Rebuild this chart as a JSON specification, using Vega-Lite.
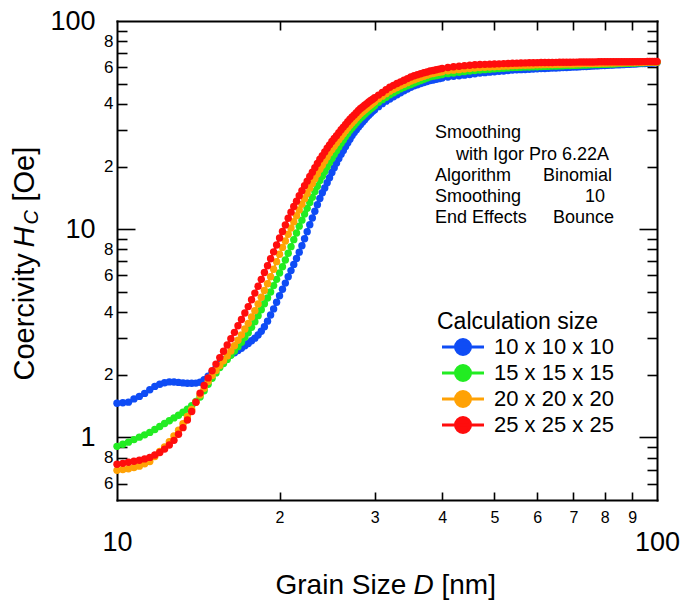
{
  "$schema": "https://vega.github.io/schema/vega-lite/v6.json",
  "width": 540,
  "height": 479,
  "autosize": "none",
  "padding": {"left": 117, "top": 21, "right": 26, "bottom": 100},
  "background": "white",
  "config": {
    "view": {"stroke": null},
    "font": "Liberation Sans",
    "axis": {
      "grid": false,
      "domainColor": "black",
      "domainWidth": 2,
      "domainCap": "square",
      "tickColor": "black",
      "tickWidth": 1.6,
      "labelColor": "black",
      "labelFont": "Liberation Sans",
      "labelFlush": false,
      "labelOverlap": false,
      "labelBound": false,
      "titleColor": "black",
      "titleFont": "Liberation Sans",
      "titleFontWeight": "normal",
      "titleFontSize": 28,
      "titleAlign": "left",
      "titleBaseline": "alphabetic"
    }
  },
  "resolve": {"axis": {"x": "independent", "y": "independent"}},
  "layer": [
    {
      "data": {"values": [
        {"c":10,"d":10,"h":1.457},{"c":10,"d":10.25,"h":1.465},{"c":10,"d":10.5,"h":1.476},{"c":10,"d":10.75,"h":1.530},{"c":10,"d":11,"h":1.573},{"c":10,"d":11.25,"h":1.626},{"c":10,"d":11.5,"h":1.692},{"c":10,"d":11.75,"h":1.757},{"c":10,"d":12,"h":1.800},{"c":10,"d":12.25,"h":1.828},{"c":10,"d":12.5,"h":1.846},{"c":10,"d":12.75,"h":1.845},{"c":10,"d":13,"h":1.836},{"c":10,"d":13.25,"h":1.826},{"c":10,"d":13.5,"h":1.818},{"c":10,"d":13.75,"h":1.818},{"c":10,"d":14,"h":1.822},{"c":10,"d":14.25,"h":1.840},{"c":10,"d":14.5,"h":1.890},{"c":10,"d":14.75,"h":1.967},{"c":10,"d":15,"h":2.056},{"c":10,"d":15.25,"h":2.147},{"c":10,"d":15.5,"h":2.251},{"c":10,"d":15.75,"h":2.355},{"c":10,"d":16,"h":2.424},{"c":10,"d":16.25,"h":2.492},{"c":10,"d":16.5,"h":2.548},{"c":10,"d":16.75,"h":2.612},{"c":10,"d":17,"h":2.676},{"c":10,"d":17.25,"h":2.751},{"c":10,"d":17.5,"h":2.822},{"c":10,"d":17.75,"h":2.908},{"c":10,"d":18,"h":2.996},{"c":10,"d":18.25,"h":3.104},{"c":10,"d":18.5,"h":3.234},{"c":10,"d":18.75,"h":3.399},{"c":10,"d":19,"h":3.615},{"c":10,"d":19.25,"h":3.868},{"c":10,"d":19.5,"h":4.140},{"c":10,"d":19.75,"h":4.453},{"c":10,"d":20,"h":4.790},{"c":10,"d":20.25,"h":5.142},{"c":10,"d":20.5,"h":5.507},{"c":10,"d":20.75,"h":5.904},{"c":10,"d":21,"h":6.324},{"c":10,"d":21.25,"h":6.773},{"c":10,"d":21.5,"h":7.228},{"c":10,"d":21.75,"h":7.743},{"c":10,"d":22,"h":8.321},{"c":10,"d":22.25,"h":8.992},{"c":10,"d":22.5,"h":9.728},{"c":10,"d":22.75,"h":10.51},{"c":10,"d":23,"h":11.31},{"c":10,"d":23.25,"h":12.19},{"c":10,"d":23.5,"h":13.09},{"c":10,"d":23.75,"h":14.05},{"c":10,"d":24,"h":14.95},{"c":10,"d":24.25,"h":15.76},{"c":10,"d":24.5,"h":16.72},{"c":10,"d":24.75,"h":17.67},{"c":10,"d":25,"h":18.71},{"c":10,"d":25.25,"h":19.73},{"c":10,"d":25.5,"h":20.77},{"c":10,"d":25.75,"h":21.85},{"c":10,"d":26,"h":22.92},{"c":10,"d":26.25,"h":23.90},{"c":10,"d":26.5,"h":24.95},{"c":10,"d":26.75,"h":25.99},{"c":10,"d":27,"h":27.02},{"c":10,"d":27.25,"h":28.15},{"c":10,"d":27.5,"h":29.10},{"c":10,"d":27.75,"h":30.06},{"c":10,"d":28,"h":30.97},{"c":10,"d":28.25,"h":31.87},{"c":10,"d":28.5,"h":32.69},{"c":10,"d":28.75,"h":33.57},{"c":10,"d":29,"h":34.44},{"c":10,"d":29.25,"h":35.21},{"c":10,"d":29.5,"h":36.00},{"c":10,"d":29.75,"h":36.81},{"c":10,"d":30,"h":37.46},
        {"c":10,"d":30.5,"h":38.77},{"c":10,"d":31,"h":40.08},{"c":10,"d":31.5,"h":41.20},{"c":10,"d":32,"h":42.22},{"c":10,"d":32.5,"h":43.21},{"c":10,"d":33,"h":44.22},{"c":10,"d":33.5,"h":45.21},{"c":10,"d":34,"h":46.17},{"c":10,"d":34.5,"h":47.10},{"c":10,"d":35,"h":48.04},{"c":10,"d":35.5,"h":48.90},{"c":10,"d":36,"h":49.44},{"c":10,"d":36.5,"h":50.06},{"c":10,"d":37,"h":50.61},{"c":10,"d":37.5,"h":51.17},{"c":10,"d":38,"h":51.74},{"c":10,"d":38.5,"h":52.09},{"c":10,"d":39,"h":52.50},{"c":10,"d":39.5,"h":52.85},{"c":10,"d":40,"h":53.21},
        {"c":10,"d":41,"h":53.86},{"c":10,"d":42,"h":54.21},{"c":10,"d":43,"h":54.58},{"c":10,"d":44,"h":54.95},{"c":10,"d":45,"h":55.38},{"c":10,"d":46,"h":55.80},{"c":10,"d":47,"h":56.23},{"c":10,"d":48,"h":56.48},{"c":10,"d":49,"h":56.79},{"c":10,"d":50,"h":57.05},{"c":10,"d":51,"h":57.31},{"c":10,"d":52,"h":57.56},{"c":10,"d":53,"h":57.88},{"c":10,"d":54,"h":58.14},{"c":10,"d":55,"h":58.27},{"c":10,"d":56,"h":58.40},{"c":10,"d":57,"h":58.53},{"c":10,"d":58,"h":58.66},{"c":10,"d":59,"h":58.78},{"c":10,"d":60,"h":58.91},{"c":10,"d":61,"h":59.05},{"c":10,"d":62,"h":59.17},{"c":10,"d":63,"h":59.31},{"c":10,"d":64,"h":59.38},{"c":10,"d":65,"h":59.51},{"c":10,"d":66,"h":59.64},{"c":10,"d":67,"h":59.71},{"c":10,"d":68,"h":59.84},{"c":10,"d":69,"h":59.91},{"c":10,"d":70,"h":60.05},{"c":10,"d":71,"h":60.12},{"c":10,"d":72,"h":60.25},{"c":10,"d":73,"h":60.38},{"c":10,"d":74,"h":60.45},{"c":10,"d":75,"h":60.58},{"c":10,"d":76,"h":60.72},{"c":10,"d":77,"h":60.85},{"c":10,"d":78,"h":60.92},{"c":10,"d":79,"h":61.05},{"c":10,"d":80,"h":61.18},{"c":10,"d":81,"h":61.25},{"c":10,"d":82,"h":61.38},{"c":10,"d":83,"h":61.45},{"c":10,"d":84,"h":61.58},{"c":10,"d":85,"h":61.65},{"c":10,"d":86,"h":61.72},{"c":10,"d":87,"h":61.86},{"c":10,"d":88,"h":61.92},{"c":10,"d":89,"h":61.99},{"c":10,"d":90,"h":62.13},{"c":10,"d":91,"h":62.20},{"c":10,"d":92,"h":62.27},{"c":10,"d":93,"h":62.41},{"c":10,"d":94,"h":62.48},{"c":10,"d":95,"h":62.55},{"c":10,"d":96,"h":62.62},{"c":10,"d":97,"h":62.75},{"c":10,"d":98,"h":62.89},{"c":10,"d":99,"h":63.03},{"c":10,"d":100,"h":63.17},

        {"c":15,"d":10,"h":0.905},{"c":15,"d":10.25,"h":0.926},{"c":15,"d":10.5,"h":0.948},{"c":15,"d":10.75,"h":0.975},{"c":15,"d":11,"h":1.002},{"c":15,"d":11.25,"h":1.028},{"c":15,"d":11.5,"h":1.056},{"c":15,"d":11.75,"h":1.091},{"c":15,"d":12,"h":1.128},{"c":15,"d":12.25,"h":1.165},{"c":15,"d":12.5,"h":1.202},{"c":15,"d":12.75,"h":1.240},{"c":15,"d":13,"h":1.277},{"c":15,"d":13.25,"h":1.320},{"c":15,"d":13.5,"h":1.366},{"c":15,"d":13.75,"h":1.420},{"c":15,"d":14,"h":1.488},{"c":15,"d":14.25,"h":1.561},{"c":15,"d":14.5,"h":1.675},{"c":15,"d":14.75,"h":1.798},{"c":15,"d":15,"h":1.920},{"c":15,"d":15.25,"h":2.040},{"c":15,"d":15.5,"h":2.163},{"c":15,"d":15.75,"h":2.263},{"c":15,"d":16,"h":2.368},{"c":15,"d":16.25,"h":2.481},{"c":15,"d":16.5,"h":2.600},{"c":15,"d":16.75,"h":2.727},{"c":15,"d":17,"h":2.863},{"c":15,"d":17.25,"h":3.022},{"c":15,"d":17.5,"h":3.180},{"c":15,"d":17.75,"h":3.376},{"c":15,"d":18,"h":3.596},{"c":15,"d":18.25,"h":3.842},{"c":15,"d":18.5,"h":4.102},{"c":15,"d":18.75,"h":4.379},{"c":15,"d":19,"h":4.670},{"c":15,"d":19.25,"h":4.995},{"c":15,"d":19.5,"h":5.357},{"c":15,"d":19.75,"h":5.741},{"c":15,"d":20,"h":6.157},{"c":15,"d":20.25,"h":6.602},{"c":15,"d":20.5,"h":7.110},{"c":15,"d":20.75,"h":7.658},{"c":15,"d":21,"h":8.241},{"c":15,"d":21.25,"h":8.904},{"c":15,"d":21.5,"h":9.587},{"c":15,"d":21.75,"h":10.34},{"c":15,"d":22,"h":11.05},{"c":15,"d":22.25,"h":11.82},{"c":15,"d":22.5,"h":12.59},{"c":15,"d":22.75,"h":13.43},{"c":15,"d":23,"h":14.22},{"c":15,"d":23.25,"h":15.16},{"c":15,"d":23.5,"h":16.09},{"c":15,"d":23.75,"h":17.11},{"c":15,"d":24,"h":17.98},{"c":15,"d":24.25,"h":18.90},{"c":15,"d":24.5,"h":19.91},{"c":15,"d":24.75,"h":20.90},{"c":15,"d":25,"h":21.88},{"c":15,"d":25.25,"h":22.82},{"c":15,"d":25.5,"h":23.79},{"c":15,"d":25.75,"h":24.84},{"c":15,"d":26,"h":25.85},{"c":15,"d":26.25,"h":26.82},{"c":15,"d":26.5,"h":27.85},{"c":15,"d":26.75,"h":28.85},{"c":15,"d":27,"h":29.89},{"c":15,"d":27.25,"h":30.73},{"c":15,"d":27.5,"h":31.55},{"c":15,"d":27.75,"h":32.47},{"c":15,"d":28,"h":33.35},{"c":15,"d":28.25,"h":34.18},{"c":15,"d":28.5,"h":34.90},{"c":15,"d":28.75,"h":35.64},{"c":15,"d":29,"h":36.40},{"c":15,"d":29.25,"h":37.13},{"c":15,"d":29.5,"h":37.87},{"c":15,"d":29.75,"h":38.56},{"c":15,"d":30,"h":39.26},
        {"c":15,"d":30.5,"h":40.66},{"c":15,"d":31,"h":41.89},{"c":15,"d":31.5,"h":43.02},{"c":15,"d":32,"h":44.18},{"c":15,"d":32.5,"h":45.17},{"c":15,"d":33,"h":46.23},{"c":15,"d":33.5,"h":47.21},{"c":15,"d":34,"h":48.00},{"c":15,"d":34.5,"h":48.81},{"c":15,"d":35,"h":49.57},{"c":15,"d":35.5,"h":50.34},{"c":15,"d":36,"h":51.07},{"c":15,"d":36.5,"h":51.82},{"c":15,"d":37,"h":52.51},{"c":15,"d":37.5,"h":53.27},{"c":15,"d":38,"h":53.98},{"c":15,"d":38.5,"h":54.34},{"c":15,"d":39,"h":54.65},{"c":15,"d":39.5,"h":55.01},{"c":15,"d":40,"h":55.32},
        {"c":15,"d":41,"h":55.87},{"c":15,"d":42,"h":56.31},{"c":15,"d":43,"h":56.74},{"c":15,"d":44,"h":57.12},{"c":15,"d":45,"h":57.50},{"c":15,"d":46,"h":57.82},{"c":15,"d":47,"h":58.14},{"c":15,"d":48,"h":58.40},{"c":15,"d":49,"h":58.60},{"c":15,"d":50,"h":58.86},{"c":15,"d":51,"h":59.06},{"c":15,"d":52,"h":59.26},{"c":15,"d":53,"h":59.52},{"c":15,"d":54,"h":59.72},{"c":15,"d":55,"h":59.85},{"c":15,"d":56,"h":59.92},{"c":15,"d":57,"h":60.05},{"c":15,"d":58,"h":60.12},{"c":15,"d":59,"h":60.26},{"c":15,"d":60,"h":60.32},{"c":15,"d":61,"h":60.45},{"c":15,"d":62,"h":60.52},{"c":15,"d":63,"h":60.63},{"c":15,"d":64,"h":60.72},{"c":15,"d":65,"h":60.79},{"c":15,"d":66,"h":60.86},{"c":15,"d":67,"h":60.99},{"c":15,"d":68,"h":61.06},{"c":15,"d":69,"h":61.13},{"c":15,"d":70,"h":61.20},{"c":15,"d":71,"h":61.31},{"c":15,"d":72,"h":61.38},{"c":15,"d":73,"h":61.45},{"c":15,"d":74,"h":61.52},{"c":15,"d":75,"h":61.65},{"c":15,"d":76,"h":61.72},{"c":15,"d":77,"h":61.79},{"c":15,"d":78,"h":61.86},{"c":15,"d":79,"h":61.93},{"c":15,"d":80,"h":62.00},{"c":15,"d":81,"h":62.06},{"c":15,"d":82,"h":62.13},{"c":15,"d":83,"h":62.20},{"c":15,"d":84,"h":62.27},{"c":15,"d":85,"h":62.41},{"c":15,"d":86,"h":62.48},{"c":15,"d":87,"h":62.55},{"c":15,"d":88,"h":62.62},{"c":15,"d":89,"h":62.68},{"c":15,"d":90,"h":62.75},{"c":15,"d":91,"h":62.82},{"c":15,"d":92,"h":62.90},{"c":15,"d":93,"h":62.96},{"c":15,"d":94,"h":63.03},{"c":15,"d":95,"h":63.10},{"c":15,"d":96,"h":63.17},{"c":15,"d":97,"h":63.24},{"c":15,"d":98,"h":63.31},{"c":15,"d":99,"h":63.31},{"c":15,"d":100,"h":63.38},

        {"c":20,"d":10,"h":0.694},{"c":20,"d":10.25,"h":0.700},{"c":20,"d":10.5,"h":0.706},{"c":20,"d":10.75,"h":0.716},{"c":20,"d":11,"h":0.727},{"c":20,"d":11.25,"h":0.746},{"c":20,"d":11.5,"h":0.766},{"c":20,"d":11.75,"h":0.809},{"c":20,"d":12,"h":0.855},{"c":20,"d":12.25,"h":0.900},{"c":20,"d":12.5,"h":0.953},{"c":20,"d":12.75,"h":1.015},{"c":20,"d":13,"h":1.083},{"c":20,"d":13.25,"h":1.163},{"c":20,"d":13.5,"h":1.259},{"c":20,"d":13.75,"h":1.362},{"c":20,"d":14,"h":1.474},{"c":20,"d":14.25,"h":1.596},{"c":20,"d":14.5,"h":1.720},{"c":20,"d":14.75,"h":1.855},{"c":20,"d":15,"h":1.980},{"c":20,"d":15.25,"h":2.096},{"c":20,"d":15.5,"h":2.212},{"c":20,"d":15.75,"h":2.332},{"c":20,"d":16,"h":2.462},{"c":20,"d":16.25,"h":2.600},{"c":20,"d":16.5,"h":2.756},{"c":20,"d":16.75,"h":2.926},{"c":20,"d":17,"h":3.107},{"c":20,"d":17.25,"h":3.317},{"c":20,"d":17.5,"h":3.528},{"c":20,"d":17.75,"h":3.785},{"c":20,"d":18,"h":4.061},{"c":20,"d":18.25,"h":4.369},{"c":20,"d":18.5,"h":4.706},{"c":20,"d":18.75,"h":5.073},{"c":20,"d":19,"h":5.470},{"c":20,"d":19.25,"h":5.910},{"c":20,"d":19.5,"h":6.424},{"c":20,"d":19.75,"h":6.982},{"c":20,"d":20,"h":7.584},{"c":20,"d":20.25,"h":8.175},{"c":20,"d":20.5,"h":8.776},{"c":20,"d":20.75,"h":9.452},{"c":20,"d":21,"h":10.13},{"c":20,"d":21.25,"h":10.85},{"c":20,"d":21.5,"h":11.59},{"c":20,"d":21.75,"h":12.37},{"c":20,"d":22,"h":13.18},{"c":20,"d":22.25,"h":14.00},{"c":20,"d":22.5,"h":14.85},{"c":20,"d":22.75,"h":15.74},{"c":20,"d":23,"h":16.58},{"c":20,"d":23.25,"h":17.49},{"c":20,"d":23.5,"h":18.42},{"c":20,"d":23.75,"h":19.39},{"c":20,"d":24,"h":20.29},{"c":20,"d":24.25,"h":21.23},{"c":20,"d":24.5,"h":22.24},{"c":20,"d":24.75,"h":23.22},{"c":20,"d":25,"h":24.16},{"c":20,"d":25.25,"h":25.04},{"c":20,"d":25.5,"h":25.94},{"c":20,"d":25.75,"h":26.88},{"c":20,"d":26,"h":27.82},{"c":20,"d":26.25,"h":28.72},{"c":20,"d":26.5,"h":29.69},{"c":20,"d":26.75,"h":30.62},{"c":20,"d":27,"h":31.59},{"c":20,"d":27.25,"h":32.44},{"c":20,"d":27.5,"h":33.28},{"c":20,"d":27.75,"h":34.18},{"c":20,"d":28,"h":35.06},{"c":20,"d":28.25,"h":35.93},{"c":20,"d":28.5,"h":36.61},{"c":20,"d":28.75,"h":37.35},{"c":20,"d":29,"h":38.10},{"c":20,"d":29.25,"h":38.81},{"c":20,"d":29.5,"h":39.51},{"c":20,"d":29.75,"h":40.21},{"c":20,"d":30,"h":40.88},
        {"c":20,"d":30.5,"h":42.27},{"c":20,"d":31,"h":43.55},{"c":20,"d":31.5,"h":44.77},{"c":20,"d":32,"h":46.03},{"c":20,"d":32.5,"h":46.95},{"c":20,"d":33,"h":47.89},{"c":20,"d":33.5,"h":48.81},{"c":20,"d":34,"h":49.68},{"c":20,"d":34.5,"h":50.56},{"c":20,"d":35,"h":51.46},{"c":20,"d":35.5,"h":52.22},{"c":20,"d":36,"h":52.97},{"c":20,"d":36.5,"h":53.62},{"c":20,"d":37,"h":54.28},{"c":20,"d":37.5,"h":54.95},{"c":20,"d":38,"h":55.62},{"c":20,"d":38.5,"h":55.99},{"c":20,"d":39,"h":56.36},{"c":20,"d":39.5,"h":56.68},{"c":20,"d":40,"h":57.06},
        {"c":20,"d":41,"h":57.69},{"c":20,"d":42,"h":58.07},{"c":20,"d":43,"h":58.39},{"c":20,"d":44,"h":58.78},{"c":20,"d":45,"h":59.11},{"c":20,"d":46,"h":59.43},{"c":20,"d":47,"h":59.76},{"c":20,"d":48,"h":59.96},{"c":20,"d":49,"h":60.16},{"c":20,"d":50,"h":60.30},{"c":20,"d":51,"h":60.50},{"c":20,"d":52,"h":60.70},{"c":20,"d":53,"h":60.84},{"c":20,"d":54,"h":61.04},{"c":20,"d":55,"h":61.11},{"c":20,"d":56,"h":61.24},{"c":20,"d":57,"h":61.31},{"c":20,"d":58,"h":61.38},{"c":20,"d":59,"h":61.45},{"c":20,"d":60,"h":61.58},{"c":20,"d":61,"h":61.65},{"c":20,"d":62,"h":61.72},{"c":20,"d":63,"h":61.79},{"c":20,"d":64,"h":61.86},{"c":20,"d":65,"h":61.93},{"c":20,"d":66,"h":62.00},{"c":20,"d":67,"h":62.06},{"c":20,"d":68,"h":62.13},{"c":20,"d":69,"h":62.17},{"c":20,"d":70,"h":62.20},{"c":20,"d":71,"h":62.27},{"c":20,"d":72,"h":62.34},{"c":20,"d":73,"h":62.41},{"c":20,"d":74,"h":62.48},{"c":20,"d":75,"h":62.55},{"c":20,"d":76,"h":62.55},{"c":20,"d":77,"h":62.62},{"c":20,"d":78,"h":62.68},{"c":20,"d":79,"h":62.75},{"c":20,"d":80,"h":62.75},{"c":20,"d":81,"h":62.82},{"c":20,"d":82,"h":62.90},{"c":20,"d":83,"h":62.90},{"c":20,"d":84,"h":62.96},{"c":20,"d":85,"h":63.03},{"c":20,"d":86,"h":63.03},{"c":20,"d":87,"h":63.10},{"c":20,"d":88,"h":63.17},{"c":20,"d":89,"h":63.17},{"c":20,"d":90,"h":63.24},{"c":20,"d":91,"h":63.24},{"c":20,"d":92,"h":63.31},{"c":20,"d":93,"h":63.38},{"c":20,"d":94,"h":63.38},{"c":20,"d":95,"h":63.45},{"c":20,"d":96,"h":63.45},{"c":20,"d":97,"h":63.52},{"c":20,"d":98,"h":63.52},{"c":20,"d":99,"h":63.59},{"c":20,"d":100,"h":63.59},

        {"c":25,"d":10,"h":0.742},{"c":25,"d":10.25,"h":0.750},{"c":25,"d":10.5,"h":0.759},{"c":25,"d":10.75,"h":0.767},{"c":25,"d":11,"h":0.776},{"c":25,"d":11.25,"h":0.788},{"c":25,"d":11.5,"h":0.801},{"c":25,"d":11.75,"h":0.823},{"c":25,"d":12,"h":0.846},{"c":25,"d":12.25,"h":0.878},{"c":25,"d":12.5,"h":0.918},{"c":25,"d":12.75,"h":0.967},{"c":25,"d":13,"h":1.034},{"c":25,"d":13.25,"h":1.113},{"c":25,"d":13.5,"h":1.211},{"c":25,"d":13.75,"h":1.331},{"c":25,"d":14,"h":1.473},{"c":25,"d":14.25,"h":1.631},{"c":25,"d":14.5,"h":1.774},{"c":25,"d":14.75,"h":1.930},{"c":25,"d":15,"h":2.090},{"c":25,"d":15.25,"h":2.248},{"c":25,"d":15.5,"h":2.416},{"c":25,"d":15.75,"h":2.592},{"c":25,"d":16,"h":2.776},{"c":25,"d":16.25,"h":2.979},{"c":25,"d":16.5,"h":3.194},{"c":25,"d":16.75,"h":3.433},{"c":25,"d":17,"h":3.681},{"c":25,"d":17.25,"h":3.959},{"c":25,"d":17.5,"h":4.246},{"c":25,"d":17.75,"h":4.577},{"c":25,"d":18,"h":4.930},{"c":25,"d":18.25,"h":5.321},{"c":25,"d":18.5,"h":5.741},{"c":25,"d":18.75,"h":6.191},{"c":25,"d":19,"h":6.675},{"c":25,"d":19.25,"h":7.206},{"c":25,"d":19.5,"h":7.779},{"c":25,"d":19.75,"h":8.395},{"c":25,"d":20,"h":9.062},{"c":25,"d":20.25,"h":9.748},{"c":25,"d":20.5,"h":10.47},{"c":25,"d":20.75,"h":11.28},{"c":25,"d":21,"h":12.07},{"c":25,"d":21.25,"h":12.85},{"c":25,"d":21.5,"h":13.63},{"c":25,"d":21.75,"h":14.47},{"c":25,"d":22,"h":15.30},{"c":25,"d":22.25,"h":16.15},{"c":25,"d":22.5,"h":17.01},{"c":25,"d":22.75,"h":17.90},{"c":25,"d":23,"h":18.78},{"c":25,"d":23.25,"h":19.71},{"c":25,"d":23.5,"h":20.68},{"c":25,"d":23.75,"h":21.66},{"c":25,"d":24,"h":22.54},{"c":25,"d":24.25,"h":23.46},{"c":25,"d":24.5,"h":24.47},{"c":25,"d":24.75,"h":25.41},{"c":25,"d":25,"h":26.35},{"c":25,"d":25.25,"h":27.24},{"c":25,"d":25.5,"h":28.12},{"c":25,"d":25.75,"h":29.07},{"c":25,"d":26,"h":30.02},{"c":25,"d":26.25,"h":30.93},{"c":25,"d":26.5,"h":31.87},{"c":25,"d":26.75,"h":32.84},{"c":25,"d":27,"h":33.76},{"c":25,"d":27.25,"h":34.59},{"c":25,"d":27.5,"h":35.40},{"c":25,"d":27.75,"h":36.28},{"c":25,"d":28,"h":37.13},{"c":25,"d":28.25,"h":37.96},{"c":25,"d":28.5,"h":38.64},{"c":25,"d":28.75,"h":39.37},{"c":25,"d":29,"h":40.08},{"c":25,"d":29.25,"h":40.79},{"c":25,"d":29.5,"h":41.49},{"c":25,"d":29.75,"h":42.13},{"c":25,"d":30,"h":42.75},
        {"c":25,"d":30.5,"h":44.05},{"c":25,"d":31,"h":45.38},{"c":25,"d":31.5,"h":46.73},{"c":25,"d":32,"h":48.10},{"c":25,"d":32.5,"h":49.07},{"c":25,"d":33,"h":50.06},{"c":25,"d":33.5,"h":51.02},{"c":25,"d":34,"h":51.94},{"c":25,"d":34.5,"h":52.87},{"c":25,"d":35,"h":53.81},{"c":25,"d":35.5,"h":54.58},{"c":25,"d":36,"h":55.19},{"c":25,"d":36.5,"h":55.75},{"c":25,"d":37,"h":56.37},{"c":25,"d":37.5,"h":56.93},{"c":25,"d":38,"h":57.50},{"c":25,"d":38.5,"h":57.88},{"c":25,"d":39,"h":58.34},{"c":25,"d":39.5,"h":58.73},{"c":25,"d":40,"h":59.11},
        {"c":25,"d":41,"h":59.84},{"c":25,"d":42,"h":60.24},{"c":25,"d":43,"h":60.64},{"c":25,"d":44,"h":61.04},{"c":25,"d":45,"h":61.31},{"c":25,"d":46,"h":61.58},{"c":25,"d":47,"h":61.79},{"c":25,"d":48,"h":61.92},{"c":25,"d":49,"h":62.06},{"c":25,"d":50,"h":62.20},{"c":25,"d":51,"h":62.26},{"c":25,"d":52,"h":62.41},{"c":25,"d":53,"h":62.55},{"c":25,"d":54,"h":62.68},{"c":25,"d":55,"h":62.75},{"c":25,"d":56,"h":62.82},{"c":25,"d":57,"h":62.90},{"c":25,"d":58,"h":62.96},{"c":25,"d":59,"h":63.03},{"c":25,"d":60,"h":63.10},{"c":25,"d":61,"h":63.14},{"c":25,"d":62,"h":63.17},{"c":25,"d":63,"h":63.20},{"c":25,"d":64,"h":63.24},{"c":25,"d":65,"h":63.28},{"c":25,"d":66,"h":63.31},{"c":25,"d":67,"h":63.35},{"c":25,"d":68,"h":63.38},{"c":25,"d":69,"h":63.42},{"c":25,"d":70,"h":63.45},{"c":25,"d":71,"h":63.48},{"c":25,"d":72,"h":63.52},{"c":25,"d":73,"h":63.52},{"c":25,"d":74,"h":63.55},{"c":25,"d":75,"h":63.59},{"c":25,"d":76,"h":63.59},{"c":25,"d":77,"h":63.62},{"c":25,"d":78,"h":63.66},{"c":25,"d":79,"h":63.66},{"c":25,"d":80,"h":63.66},{"c":25,"d":81,"h":63.66},{"c":25,"d":82,"h":63.66},{"c":25,"d":83,"h":63.66},{"c":25,"d":84,"h":63.69},{"c":25,"d":85,"h":63.69},{"c":25,"d":86,"h":63.73},{"c":25,"d":87,"h":63.73},{"c":25,"d":88,"h":63.73},{"c":25,"d":89,"h":63.76},{"c":25,"d":90,"h":63.76},{"c":25,"d":91,"h":63.80},{"c":25,"d":92,"h":63.80},{"c":25,"d":93,"h":63.80},{"c":25,"d":94,"h":63.83},{"c":25,"d":95,"h":63.83},{"c":25,"d":96,"h":63.87},{"c":25,"d":97,"h":63.87},{"c":25,"d":98,"h":63.87},{"c":25,"d":99,"h":63.87},{"c":25,"d":100,"h":63.87}
      ]},
      "mark": {"type": "line", "strokeWidth": 2, "point": {"filled": true, "size": 55, "opacity": 1}},
      "encoding": {
        "x": {
          "field": "d", "type": "quantitative",
          "scale": {"type": "log", "domain": [10, 100], "nice": false},
          "axis": {
            "orient": "bottom",
            "values": [20, 30, 40, 50, 60, 70, 80, 90],
            "ticks": false,
            "labelExpr": "format(round(datum.value / 10), 'd')",
            "labelFont": "Liberation Sans Narrow, Liberation Sans",
            "labelFontSize": 16,
            "labelPadding": 9,
            "labelBaseline": "top",
            "labelAlign": "center",
            "title": "Grain Size",
            "titleX": 158,
            "titleY": 93
          }
        },
        "y": {
          "field": "h", "type": "quantitative",
          "scale": {"type": "log", "domain": [0.5, 100], "nice": false},
          "axis": {
            "orient": "left",
            "values": [0.6, 0.8, 2, 4, 6, 8, 20, 40, 60, 80],
            "ticks": false,
            "labelExpr": "datum.value < 1 ? format(round(datum.value * 10), 'd') : (datum.value < 10 ? format(round(datum.value), 'd') : format(round(datum.value / 10), 'd'))",
            "labelFont": "Liberation Sans Narrow, Liberation Sans",
            "labelFontSize": 17,
            "labelPadding": 4,
            "labelAlign": "right",
            "labelBaseline": "middle",
            "title": "Coercivity",
            "titleFontSize": 29,
            "titleAngle": -90,
            "titleX": -84,
            "titleY": 359
          }
        },
        "color": {
          "field": "c", "type": "nominal",
          "scale": {"domain": [10, 15, 20, 25], "range": ["#0f4cf5", "#22ec22", "#ffa205", "#ff0d0d"]},
          "legend": {
            "title": "Calculation size",
            "orient": "none",
            "direction": "vertical",
            "legendX": 320,
            "legendY": 290,
            "padding": 0,
            "titleFont": "Liberation Sans",
            "titleFontSize": 23,
            "titleFontWeight": "normal",
            "titleColor": "black",
            "titlePadding": 2,
            "labelFont": "Liberation Sans",
            "labelFontSize": 22,
            "labelColor": "black",
            "labelOffset": 20,
            "labelExpr": "datum.label + ' x ' + datum.label + ' x ' + datum.label",
            "symbolType": "M-2.333,0L2.333,0M-0.833,0A0.833,0.833,0,1,0,0.833,0A0.833,0.833,0,1,0,-0.833,0Z",
            "symbolSize": 324,
            "symbolOffset": 15,
            "symbolStrokeWidth": 3,
            "rowPadding": -2,
            "encode": {
              "symbols": {
                "update": {
                  "fill": {"scale": "color", "field": "value"},
                  "stroke": {"scale": "color", "field": "value"},
                  "strokeWidth": {"value": 3},
                  "opacity": {"value": 1}
                }
              }
            }
          }
        }
      }
    },
    {
      "data": {"values": [
        {"t": "Smoothing", "d": 38.81, "h": 27.39},
        {"t": "with Igor Pro 6.22A", "d": 42.44, "h": 21.59},
        {"t": "Algorithm", "d": 38.81, "h": 17.01},
        {"t": "Binomial", "d": 61.5, "h": 17.01},
        {"t": "Smoothing", "d": 38.81, "h": 13.49},
        {"t": "10", "d": 73.56, "h": 13.49},
        {"t": "End Effects", "d": 38.81, "h": 10.69},
        {"t": "Bounce", "d": 64.2, "h": 10.69}
      ]},
      "mark": {"type": "text", "align": "left", "baseline": "alphabetic", "font": "Liberation Sans", "fontSize": 18, "color": "black"},
      "encoding": {
        "x": {
          "field": "d", "type": "quantitative",
          "scale": {"type": "log", "domain": [10, 100], "nice": false},
          "axis": {
            "orient": "top",
            "values": [20, 30, 40, 50, 60, 70, 80, 90],
            "tickSize": -9,
            "labels": false,
            "title": "D",
            "titleFontStyle": "italic",
            "titleX": 296,
            "titleY": 572
          }
        },
        "y": {
          "field": "h", "type": "quantitative",
          "scale": {"type": "log", "domain": [0.5, 100], "nice": false},
          "axis": {
            "orient": "right",
            "values": [0.6, 0.7, 0.8, 0.9, 2, 3, 4, 5, 6, 7, 8, 9, 20, 30, 40, 50, 60, 70, 80, 90],
            "tickSize": -10,
            "labels": false,
            "title": "H",
            "titleFontStyle": "italic",
            "titleFontSize": 29,
            "titleAngle": -90,
            "titleX": -624,
            "titleY": 226
          }
        },
        "text": {"field": "t"}
      }
    },
    {
      "data": {"values": [{"d": 10, "h": 1}]},
      "mark": {"type": "point", "opacity": 0},
      "encoding": {
        "x": {
          "field": "d", "type": "quantitative",
          "scale": {"type": "log", "domain": [10, 100], "nice": false},
          "axis": {
            "orient": "bottom",
            "domain": false,
            "labels": false,
            "values": [20, 30, 40, 50, 60, 70, 80, 90],
            "tickSize": -8,
            "title": "[nm]",
            "titleX": 324,
            "titleY": 93
          }
        },
        "y": {
          "field": "h", "type": "quantitative",
          "scale": {"type": "log", "domain": [0.5, 100], "nice": false},
          "axis": {
            "orient": "left",
            "domain": false,
            "labels": false,
            "values": [0.6, 0.7, 0.8, 0.9, 2, 3, 4, 5, 6, 7, 8, 9, 20, 30, 40, 50, 60, 70, 80, 90],
            "tickSize": -10,
            "title": "C",
            "titleFontStyle": "italic",
            "titleFontSize": 20,
            "titleAngle": -90,
            "titleX": -80,
            "titleY": 203
          }
        }
      }
    },
    {
      "data": {"values": [{"d": 10, "h": 1}]},
      "mark": {"type": "point", "opacity": 0},
      "encoding": {
        "x": {
          "field": "d", "type": "quantitative",
          "scale": {"type": "log", "domain": [10, 100], "nice": false},
          "axis": {
            "orient": "bottom",
            "domain": false,
            "ticks": false,
            "values": [10, 100],
            "labelExpr": "datum.value < 50 ? '10' : '100'",
            "labelFont": "Liberation Sans",
            "labelFontSize": 27,
            "labelPadding": 50,
            "labelBaseline": "alphabetic",
            "labelAlign": "center",
            "title": null
          }
        },
        "y": {
          "field": "h", "type": "quantitative",
          "scale": {"type": "log", "domain": [0.5, 100], "nice": false},
          "axis": {
            "orient": "left",
            "domain": false,
            "labels": false,
            "values": [1, 10],
            "tickSize": -18,
            "title": "[Oe]",
            "titleFontSize": 29,
            "titleAngle": -90,
            "titleX": -84,
            "titleY": 180
          }
        }
      }
    },
    {
      "data": {"values": [{"d": 10, "h": 1}]},
      "mark": {"type": "point", "opacity": 0},
      "encoding": {
        "x": {
          "field": "d", "type": "quantitative",
          "scale": {"type": "log", "domain": [10, 100], "nice": false},
          "axis": null
        },
        "y": {
          "field": "h", "type": "quantitative",
          "scale": {"type": "log", "domain": [0.5, 100], "nice": false},
          "axis": {
            "orient": "left",
            "domain": false,
            "ticks": false,
            "values": [1, 10, 100],
            "labelExpr": "datum.value < 5 ? '1' : (datum.value < 50 ? '10' : '100')",
            "labelFont": "Liberation Sans",
            "labelFontSize": 27,
            "labelPadding": 22,
            "labelAlign": "right",
            "labelBaseline": "middle",
            "title": null
          }
        }
      }
    },
    {
      "data": {"values": [{"d": 10, "h": 1}]},
      "mark": {"type": "point", "opacity": 0},
      "encoding": {
        "x": {
          "field": "d", "type": "quantitative",
          "scale": {"type": "log", "domain": [10, 100], "nice": false},
          "axis": null
        },
        "y": {
          "field": "h", "type": "quantitative",
          "scale": {"type": "log", "domain": [0.5, 100], "nice": false},
          "axis": {
            "orient": "right",
            "domain": false,
            "labels": false,
            "values": [1, 10],
            "tickSize": -18,
            "title": null
          }
        }
      }
    }
  ]
}
